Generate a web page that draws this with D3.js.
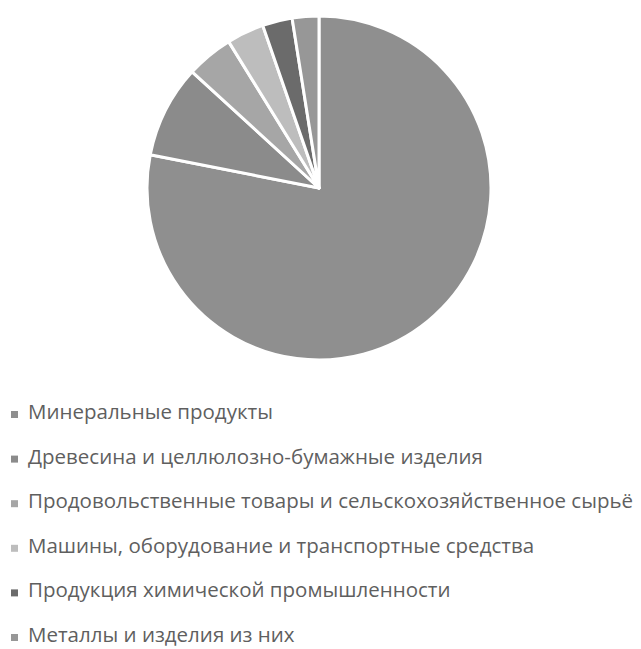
<!DOCTYPE html>
<html>
<head>
<meta charset="utf-8">
<script src="https://cdn.jsdelivr.net/npm/d3@7"></script>
<style>
  body { margin: 0; background: #fff; }
  svg { display: block; }
</style>
</head>
<body>
<svg id="chart" width="641" height="649"></svg>
<script>
// категории и доли (в %)
const categories = [
  "Минеральные продукты",
  "Древесина и целлюлозно-бумажные изделия",
  "Продовольственные товары и сельскохозяйственное сырьё",
  "Машины, оборудование и транспортные средства",
  "Продукция химической промышленности",
  "Металлы и изделия из них"
];
const values = [78.1, 8.7, 4.4, 3.5, 2.8, 2.5];
const colors = ["#8f8f8f", "#8b8b8b", "#a6a6a6", "#bdbdbd", "#6b6b6b", "#979797"];

const width = 641, height = 649;
const cx = 319, cy = 188, radius = 172;

const svg = d3.select("#chart");

const data = categories.map((c, i) => ({ name: c, value: values[i], color: colors[i] }));

// pie dans le sens horaire à partir de midi
const pie = d3.pie().value(d => d.value).sort(null);
const arc = d3.arc().innerRadius(0).outerRadius(radius);

const g = svg.append("g").attr("transform", `translate(${cx}, ${cy})`);

g.selectAll("path")
  .data(pie(data))
  .enter().append("path")
  .attr("d", arc)
  .attr("fill", d => d.data.color)
  .attr("stroke", "#fff")
  .attr("stroke-width", 3)
  .attr("stroke-linejoin", "round");

// légende
const legendY = 419, legendStep = 44.6;
const legend = svg.append("g").attr("class", "legend");

const items = legend.selectAll("g")
  .data(data)
  .enter().append("g")
  .attr("transform", (d, i) => `translate(0, ${legendY + i * legendStep})`);

items.append("rect")
  .attr("x", 11)
  .attr("y", -8)
  .attr("width", 7)
  .attr("height", 7)
  .attr("fill", d => d.color);

items.append("text")
  .attr("x", 28)
  .attr("y", 0)
  .attr("font-family", "'Open Sans', sans-serif")
  .attr("font-size", 20.5)
  .attr("fill", "#5f5f5f")
  .text(d => d.name);
</script>
</body>
</html>
